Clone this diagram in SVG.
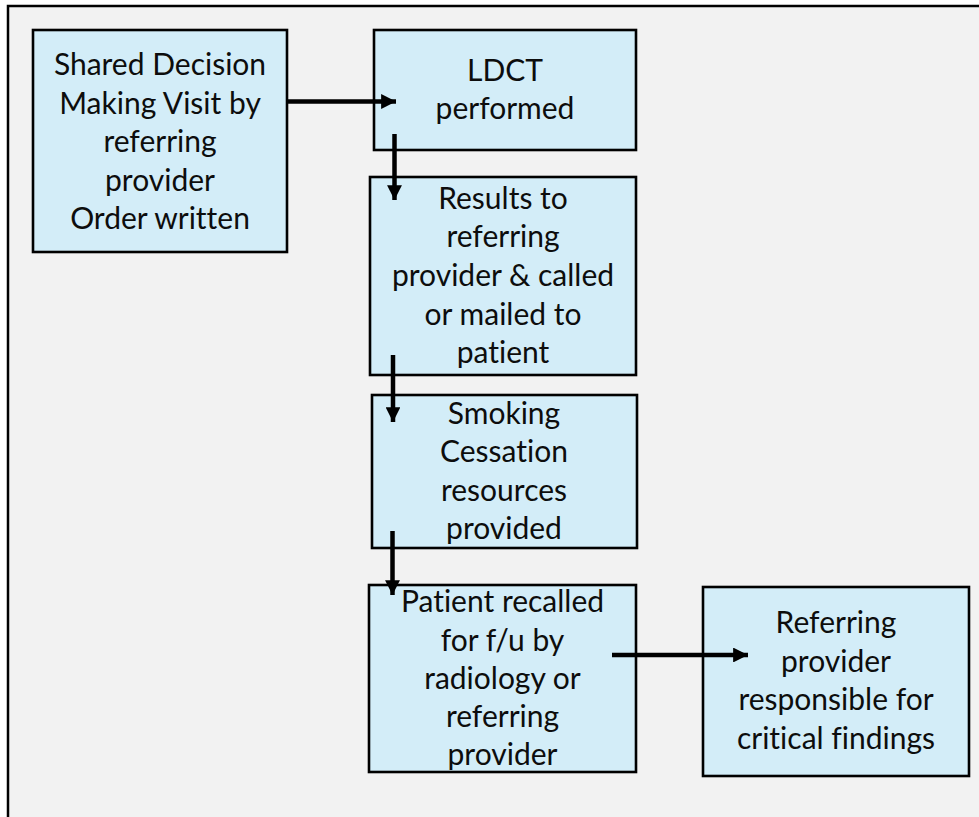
<svg xmlns="http://www.w3.org/2000/svg" width="979" height="817" viewBox="0 0 979 817">
<defs>
<style>
.box{fill:#d3edf8;stroke:#000;stroke-width:2.6}
.t{font-family:Lato,"Open Sans","Liberation Sans",sans-serif;font-size:30px;fill:#0d0d0d;text-anchor:middle;font-variant-ligatures:none;font-feature-settings:"liga" 0,"dlig" 0}
.c{stroke:#000;stroke-width:4.5;fill:none}
</style>
<marker id="ah" viewBox="0 0 10 10" refX="10" refY="5" markerWidth="3.7" markerHeight="3.3" markerUnits="strokeWidth" orient="auto">
<path d="M0,0L10,5L0,10z" fill="#000"/>
</marker>
</defs>
<rect x="0" y="0" width="979" height="817" fill="#fff"/>
<rect x="8" y="6" width="990" height="830" fill="#f2f2f2" stroke="#000" stroke-width="2.5"/>
<g id="n1"><rect class="box" x="33" y="30" width="254" height="222"/>
<text class="t" x="160"><tspan x="160" y="75">Shared Decision</tspan><tspan x="160" y="113.5">Making Visit by</tspan><tspan x="160" y="152">referring</tspan><tspan x="160" y="190.5">provider</tspan><tspan x="160" y="229">Order written</tspan></text></g>
<g id="n2"><rect class="box" x="374" y="30" width="262" height="120"/>
<text class="t"><tspan x="505" y="81">LDCT</tspan><tspan x="505" y="119">performed</tspan></text></g>
<g id="n3"><rect class="box" x="370" y="177" width="266" height="198"/>
<text class="t"><tspan x="503" y="208.5">Results to</tspan><tspan x="503" y="247">referring</tspan><tspan x="503" y="286">provider &amp; called</tspan><tspan x="503" y="324.5">or mailed to</tspan><tspan x="503" y="363">patient</tspan></text></g>
<g id="n4"><rect class="box" x="372" y="395" width="265" height="153"/>
<text class="t"><tspan x="504" y="424">Smoking</tspan><tspan x="504" y="462">Cessation</tspan><tspan x="504" y="500.5">resources</tspan><tspan x="504" y="539">provided</tspan></text></g>
<g id="n5"><rect class="box" x="369" y="585" width="267" height="187"/>
<text class="t"><tspan x="502.5" y="612">Patient recalled</tspan><tspan x="502.5" y="650.5">for f/u by</tspan><tspan x="502.5" y="688.5">radiology or</tspan><tspan x="502.5" y="726.5">referring</tspan><tspan x="502.5" y="764.5">provider</tspan></text></g>
<g id="n6"><rect class="box" x="703" y="587" width="266" height="189"/>
<text class="t"><tspan x="836" y="633">Referring</tspan><tspan x="836" y="672">provider</tspan><tspan x="836" y="710">responsible for</tspan><tspan x="836" y="749">critical findings</tspan></text></g>
<g id="connectors">
<line class="c" x1="287" y1="101.5" x2="396" y2="101.5" marker-end="url(#ah)"/>
<line class="c" x1="394.5" y1="134" x2="394.5" y2="200" marker-end="url(#ah)"/>
<line class="c" x1="393" y1="355" x2="393" y2="422" marker-end="url(#ah)"/>
<line class="c" x1="392.5" y1="531" x2="392.5" y2="595" marker-end="url(#ah)"/>
<line class="c" x1="612" y1="655" x2="748" y2="655" marker-end="url(#ah)"/>
</g>
</svg>
